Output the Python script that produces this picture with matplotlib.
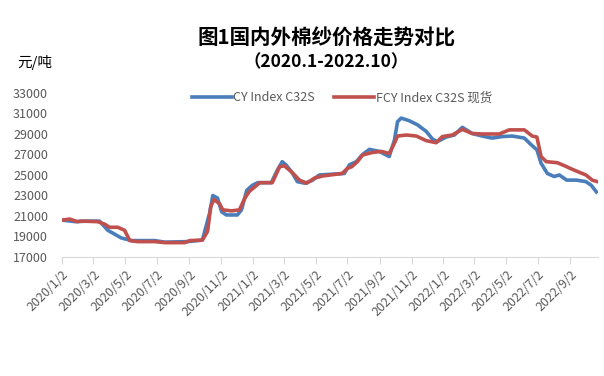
import matplotlib

matplotlib.use("Agg")
import matplotlib.dates as mdates
import matplotlib.pyplot as plt
import pandas as pd
from matplotlib.ticker import FuncFormatter

plt.rcParams["font.family"] = ["Noto Sans CJK SC", "DejaVu Sans"]

# CY Index C32S (元/吨)
cy_dates = [
    "2020-01-02", "2020-01-27", "2020-02-20", "2020-03-14", "2020-03-30",
    "2020-04-25", "2020-05-15", "2020-06-28", "2020-07-17", "2020-08-30",
    "2020-09-27", "2020-10-11", "2020-10-17", "2020-10-26", "2020-11-03",
    "2020-11-12", "2020-12-03", "2020-12-11", "2020-12-21", "2021-01-01",
    "2021-01-11", "2021-02-06", "2021-02-18", "2021-02-27", "2021-03-07",
    "2021-03-19", "2021-03-28", "2021-04-11", "2021-04-25", "2021-05-09",
    "2021-06-26", "2021-07-06", "2021-07-19", "2021-07-31", "2021-08-13",
    "2021-09-01", "2021-09-20", "2021-09-30", "2021-10-06", "2021-10-13",
    "2021-10-28", "2021-11-13", "2021-11-30", "2021-12-12", "2021-12-21",
    "2022-01-07", "2022-01-23", "2022-02-07", "2022-02-26", "2022-03-17",
    "2022-04-05", "2022-04-25", "2022-05-14", "2022-06-06", "2022-06-19",
    "2022-06-30", "2022-07-08", "2022-07-20", "2022-08-02", "2022-08-12",
    "2022-08-26", "2022-09-14", "2022-10-02", "2022-10-12", "2022-10-22",
]
cy_values = [
    20600, 20450, 20500, 20500, 19600,
    18850, 18600, 18600, 18450, 18500,
    18650, 21300, 23000, 22750, 21400,
    21100, 21100, 21600, 23500, 24000,
    24250, 24250, 25500, 26300, 25950,
    25150, 24350, 24200, 24450, 25000,
    25150, 26000, 26300, 27000, 27500,
    27300, 26800, 28400, 30200, 30550,
    30300, 29900, 29250, 28500, 28250,
    28700, 28900, 29650, 29050, 28800,
    28600, 28750, 28800, 28600, 27950,
    27450, 26150, 25150, 24850, 25000,
    24500, 24500, 24350, 24000, 23350,
]

# FCY Index C32S 现货 (元/吨)
fcy_dates = [
    "2020-01-02", "2020-01-17", "2020-01-31", "2020-02-09", "2020-03-10",
    "2020-03-24", "2020-04-02", "2020-04-18", "2020-05-01", "2020-05-07",
    "2020-05-11", "2020-05-26", "2020-06-28", "2020-07-17", "2020-08-24",
    "2020-09-03", "2020-09-27", "2020-10-07", "2020-10-13", "2020-10-19",
    "2020-10-30", "2020-11-05", "2020-11-22", "2020-12-07", "2020-12-17",
    "2020-12-26", "2021-01-15", "2021-02-08", "2021-02-22", "2021-03-03",
    "2021-03-17", "2021-04-01", "2021-04-15", "2021-04-30", "2021-05-15",
    "2021-06-22", "2021-07-02", "2021-07-10", "2021-07-21", "2021-07-31",
    "2021-08-19", "2021-09-05", "2021-09-20", "2021-09-30", "2021-10-06",
    "2021-10-23", "2021-11-11", "2021-11-30", "2021-12-19", "2021-12-31",
    "2022-01-19", "2022-02-07", "2022-02-26", "2022-03-17", "2022-04-19",
    "2022-05-08", "2022-06-06", "2022-06-21", "2022-06-30", "2022-07-08",
    "2022-07-18", "2022-08-08", "2022-08-22", "2022-09-06", "2022-09-20",
    "2022-10-02", "2022-10-14", "2022-10-24",
]
fcy_values = [
    20600, 20700, 20450, 20500, 20450,
    20200, 19900, 19900, 19600, 19000,
    18600, 18500, 18500, 18400, 18400,
    18600, 18650, 19500, 21900, 22600,
    22200, 21600, 21500, 21600, 22700,
    23400, 24250, 24250, 25800, 25900,
    25300, 24500, 24200, 24700, 24900,
    25150, 25650, 25800, 26300, 26950,
    27200, 27300, 27100, 28100, 28800,
    28900, 28800, 28350, 28150, 28750,
    28900, 29450, 29050, 29000, 29000,
    29400, 29400, 28800, 28700, 26800,
    26300, 26200, 25900, 25550, 25250,
    25000, 24500, 24350,
]

y_ticks = list(range(17000, 33001, 2000))
x_start, x_end = "2020-01-02", "2022-10-25"
tick_dates = [
    "2020-01-02", "2020-03-02", "2020-05-02", "2020-07-02", "2020-09-02",
    "2020-11-02", "2021-01-02", "2021-03-02", "2021-05-02", "2021-07-02",
    "2021-09-02", "2021-11-02", "2022-01-02", "2022-03-02", "2022-05-02",
    "2022-07-02", "2022-09-02",
]

blue = "#4A7EBB"
red = "#C0504D"
grey_text = "#595959"
axis_grey = "#D9D9D9"

fig = plt.figure(figsize=(6.04, 3.76), dpi=100)
ax = fig.add_axes([0.1026, 0.3165, 0.8874, 0.4362])

ax.plot(pd.to_datetime(cy_dates), cy_values, color=blue, linewidth=2.6,
        label="CY Index C32S", solid_joinstyle="round")
ax.plot(pd.to_datetime(fcy_dates), fcy_values, color=red, linewidth=2.6,
        label="FCY Index C32S 现货", solid_joinstyle="round")

ax.set_xlim(pd.Timestamp(x_start), pd.Timestamp(x_end))
ax.set_ylim(17000, 33000)
ax.set_yticks(y_ticks)
ax.set_xticks(pd.to_datetime(tick_dates))
ax.xaxis.set_major_formatter(
    FuncFormatter(lambda v, _: (lambda d: f"{d.year}/{d.month}/{d.day}")(mdates.num2date(v)))
)
for lbl in ax.get_xticklabels():
    lbl.set_rotation(45)
    lbl.set_ha("right")
    lbl.set_rotation_mode("anchor")

for side in ("top", "right", "left"):
    ax.spines[side].set_visible(False)
ax.spines["bottom"].set_color(axis_grey)
ax.tick_params(axis="y", length=0, labelsize=9, colors=grey_text, pad=10)
ax.tick_params(axis="x", length=5, color=axis_grey, labelsize=9,
               labelcolor=grey_text, pad=3)

ax.legend(loc="center", bbox_to_anchor=(0.522, 0.97), ncol=2, frameon=False,
          fontsize=9, labelcolor=grey_text, handlelength=3.2, handletextpad=0.1,
          columnspacing=1.6)

fig.text(0.54, 0.90, "图1国内外棉纱价格走势对比", ha="center", va="center",
         fontsize=14.8, fontweight="bold")
fig.text(0.54, 0.835, "（2020.1-2022.10）", ha="center", va="center",
         fontsize=12.5, fontweight="bold")
fig.text(0.028, 0.835, "元/吨", ha="left", va="center", fontsize=10.5)

fig.savefig("out.png", dpi=100)
